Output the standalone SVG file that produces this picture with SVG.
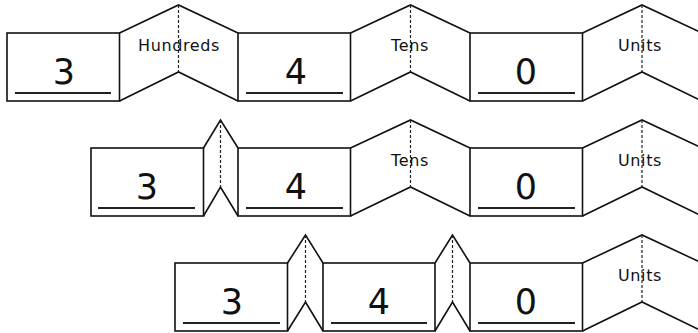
<svg xmlns="http://www.w3.org/2000/svg" width="698" height="333" viewBox="0 0 698 333">
  <style>
    .box { fill: #fff; stroke: #111; stroke-width: 1.6; }
    .fold { fill: none; stroke: #111; stroke-width: 1.6; stroke-linejoin: miter; }
    .crease { stroke: #222; stroke-width: 1.2; stroke-dasharray: 3 2; }
    .rule { stroke: #222; stroke-width: 1.8; }
    .digit { font-family: "DejaVu Sans", "Liberation Sans", sans-serif; font-size: 35px; fill: #111; text-anchor: middle; }
    .label { font-family: "DejaVu Sans", "Liberation Sans", sans-serif; font-size: 16px; letter-spacing: 0.6px; fill: #111; text-anchor: middle; }
  </style>
  <rect width="698" height="333" fill="#fff"/>

  <!-- Row 1: all three folds open -->
  <g id="row1">
    <g id="r1-fold-hundreds">
      <polyline class="fold" points="119.5,33 178.5,5 238,33"/>
      <polyline class="fold" points="119.5,101 178.5,72 238,101"/>
      <line class="crease" x1="178.5" y1="5" x2="178.5" y2="72"/>
      <text class="label" x="179" y="51">Hundreds</text>
    </g>
    <g id="r1-fold-tens">
      <polyline class="fold" points="350.5,33 410.5,5 470,33"/>
      <polyline class="fold" points="350.5,101 410.5,72 470,101"/>
      <line class="crease" x1="410.5" y1="5" x2="410.5" y2="72"/>
      <text class="label" x="410" y="51">Tens</text>
    </g>
    <g id="r1-fold-units">
      <polyline class="fold" points="582.5,33 642,5 702,33"/>
      <polyline class="fold" points="582.5,101 642,72 702,101"/>
      <line class="crease" x1="642" y1="5" x2="642" y2="72"/>
      <text class="label" x="640" y="51">Units</text>
    </g>
    <g id="r1-box-3">
      <rect class="box" x="7" y="33" width="112.5" height="68"/>
      <line class="rule" x1="15" y1="93" x2="111" y2="93"/>
      <text class="digit" x="64" y="84">3</text>
    </g>
    <g id="r1-box-4">
      <rect class="box" x="238" y="33" width="112.5" height="68"/>
      <line class="rule" x1="246" y1="93" x2="343" y2="93"/>
      <text class="digit" x="296" y="84">4</text>
    </g>
    <g id="r1-box-0">
      <rect class="box" x="470" y="33" width="112.5" height="68"/>
      <line class="rule" x1="478" y1="93" x2="575" y2="93"/>
      <text class="digit" x="526" y="84">0</text>
    </g>
  </g>

  <!-- Row 2: hundreds fold closed -->
  <g id="row2">
    <g id="r2-fold-hundreds">
      <polyline class="fold" points="203.5,148 220.5,120 238,148"/>
      <polyline class="fold" points="203.5,216 220.5,187 238,216"/>
      <line class="crease" x1="220.5" y1="120" x2="220.5" y2="187"/>
    </g>
    <g id="r2-fold-tens">
      <polyline class="fold" points="350.5,148 410.5,120 470,148"/>
      <polyline class="fold" points="350.5,216 410.5,187 470,216"/>
      <line class="crease" x1="410.5" y1="120" x2="410.5" y2="187"/>
      <text class="label" x="410" y="166">Tens</text>
    </g>
    <g id="r2-fold-units">
      <polyline class="fold" points="582.5,148 642,120 702,148"/>
      <polyline class="fold" points="582.5,216 642,187 702,216"/>
      <line class="crease" x1="642" y1="120" x2="642" y2="187"/>
      <text class="label" x="640" y="166">Units</text>
    </g>
    <g id="r2-box-3">
      <rect class="box" x="91" y="148" width="112.5" height="68"/>
      <line class="rule" x1="98" y1="208" x2="195" y2="208"/>
      <text class="digit" x="147" y="199">3</text>
    </g>
    <g id="r2-box-4">
      <rect class="box" x="238" y="148" width="112.5" height="68"/>
      <line class="rule" x1="246" y1="208" x2="343" y2="208"/>
      <text class="digit" x="296" y="199">4</text>
    </g>
    <g id="r2-box-0">
      <rect class="box" x="470" y="148" width="112.5" height="68"/>
      <line class="rule" x1="478" y1="208" x2="575" y2="208"/>
      <text class="digit" x="526" y="199">0</text>
    </g>
  </g>

  <!-- Row 3: hundreds and tens folds closed -->
  <g id="row3">
    <g id="r3-fold-hundreds">
      <polyline class="fold" points="287.5,263 305.5,235 323,263"/>
      <polyline class="fold" points="287.5,331 305.5,302 323,331"/>
      <line class="crease" x1="305.5" y1="235" x2="305.5" y2="302"/>
    </g>
    <g id="r3-fold-tens">
      <polyline class="fold" points="435,263 452.5,235 470,263"/>
      <polyline class="fold" points="435,331 452.5,302 470,331"/>
      <line class="crease" x1="452.5" y1="235" x2="452.5" y2="302"/>
    </g>
    <g id="r3-fold-units">
      <polyline class="fold" points="582.5,263 642,235 702,263"/>
      <polyline class="fold" points="582.5,331 642,302 702,331"/>
      <line class="crease" x1="642" y1="235" x2="642" y2="302"/>
      <text class="label" x="640" y="281">Units</text>
    </g>
    <g id="r3-box-3">
      <rect class="box" x="175" y="263" width="112.5" height="68"/>
      <line class="rule" x1="183" y1="323" x2="280" y2="323"/>
      <text class="digit" x="232" y="314">3</text>
    </g>
    <g id="r3-box-4">
      <rect class="box" x="323" y="263" width="112" height="68"/>
      <line class="rule" x1="331" y1="323" x2="427" y2="323"/>
      <text class="digit" x="379" y="314">4</text>
    </g>
    <g id="r3-box-0">
      <rect class="box" x="470" y="263" width="112.5" height="68"/>
      <line class="rule" x1="478" y1="323" x2="575" y2="323"/>
      <text class="digit" x="526" y="314">0</text>
    </g>
  </g>
</svg>
